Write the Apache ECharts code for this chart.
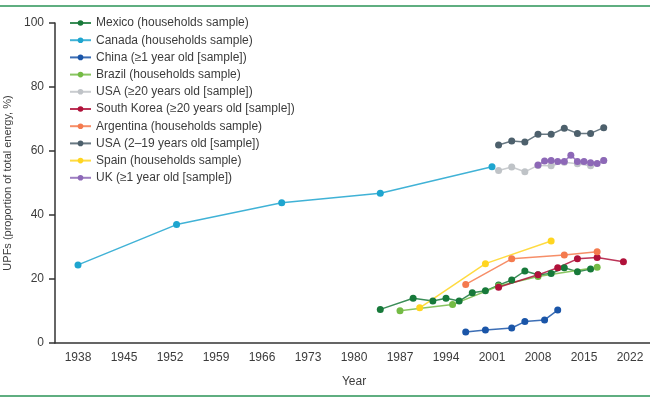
<!DOCTYPE html>
<html>
<head>
<meta charset="utf-8" />
<title>UPF share of total energy</title>
<script src="https://cdn.jsdelivr.net/npm/echarts@6/dist/echarts.min.js"></script>
<style>
  body { margin: 0; background: #fff; }
  #main { width: 650px; height: 400px; }
</style>
</head>
<body>
<div id="main"></div>
<script>
// tick labels for the year axis (one per 7-year band)
var yearTicks = ['1938', '1945', '1952', '1959', '1966', '1973', '1980', '1987', '1994', '2001', '2008', '2015', '2022'];

// values
var mexicoYears = [1984, 1989, 1992, 1994, 1996, 1998, 2000, 2002, 2004, 2006, 2008, 2010, 2012, 2014, 2016];
var mexicoValues = [10.5, 14.0, 13.1, 14.0, 13.1, 15.7, 16.3, 18.1, 19.7, 22.5, 21.3, 21.7, 23.5, 22.3, 23.1];

var canadaYears = [1938, 1953, 1969, 1984, 2001];
var canadaValues = [24.4, 37.0, 43.8, 46.8, 55.1];

var chinaYears = [1997, 2000, 2004, 2006, 2009, 2011];
var chinaValues = [3.4, 4.1, 4.7, 6.7, 7.2, 10.3];

var brazilYears = [1987, 1995, 2002, 2008, 2017];
var brazilValues = [10.1, 12.0, 17.8, 20.8, 23.7];

var usaAdultYears = [2002, 2004, 2006, 2008, 2010, 2012, 2014, 2016, 2018];
var usaAdultValues = [53.9, 55.0, 53.5, 55.5, 55.4, 56.5, 56.0, 55.4, 57.0];

var koreaYears = [2002, 2008, 2011, 2014, 2017, 2021];
var koreaValues = [17.4, 21.3, 23.5, 26.3, 26.7, 25.4];

var argentinaYears = [1997, 2004, 2012, 2017];
var argentinaValues = [18.3, 26.3, 27.5, 28.5];

var usaYouthYears = [2002, 2004, 2006, 2008, 2010, 2012, 2014, 2016, 2018];
var usaYouthValues = [61.9, 63.1, 62.8, 65.2, 65.2, 67.1, 65.5, 65.5, 67.3];

var spainYears = [1990, 2000, 2010];
var spainValues = [11.0, 24.8, 31.9];

var ukYears = [2008, 2009, 2010, 2011, 2012, 2013, 2014, 2015, 2016, 2017, 2018];
var ukValues = [55.6, 56.9, 57.0, 56.7, 56.7, 58.7, 56.7, 56.7, 56.3, 56.1, 57.0];

function pairs(xs, ys) {
    var out = [];
    for (var i = 0; i < xs.length; i++) out.push([xs[i], ys[i]]);
    return out;
}

function line(name, xs, ys, color) {
    return {
        name: name,
        type: 'line',
        xAxisIndex: 0,
        data: pairs(xs, ys),
        symbol: 'circle',
        symbolSize: 7,
        itemStyle: { color: color },
        lineStyle: { color: color, width: 1.5, opacity: 0.85 },
        emphasis: { disabled: true },
        animation: false
    };
}

var font = 'Liberation Sans';
var txt = '#3c3c3c';
var myChart = echarts.init(document.getElementById('main'));
var option = {
    backgroundColor: '#fff',
    animation: false,
    graphic: [
        { type: 'rect', left: 0, top: 5, shape: { width: 650, height: 2 }, style: { fill: '#5fae80' } },
        { type: 'rect', left: 0, top: 395, shape: { width: 650, height: 2 }, style: { fill: '#5fae80' } }
    ],
    legend: {
        orient: 'vertical',
        left: 69,
        top: 16,
        padding: 0,
        itemWidth: 21,
        itemHeight: 7,
        itemGap: 3.2,
        textStyle: { fontFamily: font, fontSize: 12, color: txt, lineHeight: 14 }
    },
    grid: { left: 55, top: 23, width: 598, bottom: 57, containLabel: false, outerBoundsMode: 'none' },
    xAxis: [
        {
            type: 'value',
            min: 1934.5,
            max: 2025.5,
            show: false
        },
        {
            type: 'category',
            data: yearTicks,
            position: 'bottom',
            boundaryGap: true,
            name: 'Year',
            nameLocation: 'middle',
            nameGap: 33,
            nameTextStyle: { fontFamily: font, fontSize: 12, color: txt },
            axisLine: { lineStyle: { color: '#333', width: 1.5 } },
            axisTick: { alignWithLabel: false, length: 6, lineStyle: { color: '#333', width: 1.5 } },
            axisLabel: { fontFamily: font, fontSize: 12, color: txt, margin: 9 },
            splitLine: { show: false }
        }
    ],
    yAxis: {
        type: 'value',
        min: 0,
        max: 100,
        interval: 20,
        name: 'UPFs (proportion of total energy, %)',
        nameLocation: 'middle',
        nameGap: 41,
        nameTextStyle: { fontFamily: font, fontSize: 11, color: txt },
        axisLine: { show: true, lineStyle: { color: '#333', width: 1.5 } },
        axisTick: { show: true, length: 6, lineStyle: { color: '#333', width: 1.5 } },
        axisLabel: { fontFamily: font, fontSize: 12, color: txt, margin: 11 },
        splitLine: { show: false }
    },
    series: [
        line('Mexico (households sample)', mexicoYears, mexicoValues, '#17793a'),
        line('Canada (households sample)', canadaYears, canadaValues, '#1ea5cf'),
        line('China (\u22651 year old [sample])', chinaYears, chinaValues, '#1a55a8'),
        line('Brazil (households sample)', brazilYears, brazilValues, '#74bb45'),
        line('USA (\u226520 years old [sample])', usaAdultYears, usaAdultValues, '#bfc3c7'),
        line('South Korea (\u226520 years old [sample])', koreaYears, koreaValues, '#b0113a'),
        line('Argentina (households sample)', argentinaYears, argentinaValues, '#f47a4e'),
        line('USA (2\u201319 years old [sample])', usaYouthYears, usaYouthValues, '#4d606c'),
        line('Spain (households sample)', spainYears, spainValues, '#ffd520'),
        line('UK (\u22651 year old [sample])', ukYears, ukValues, '#8d68b7')
    ]
};
myChart.setOption(option);
</script>
</body>
</html>
